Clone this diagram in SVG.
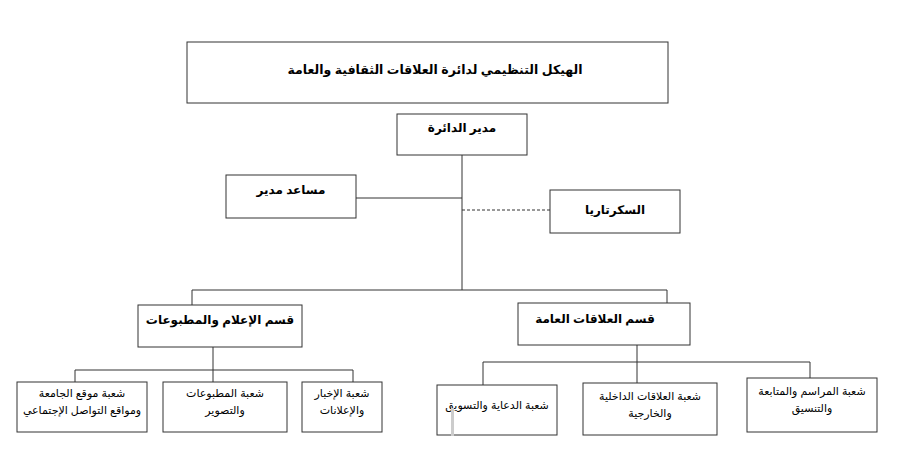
<svg xmlns="http://www.w3.org/2000/svg" width="900" height="463" viewBox="0 0 900 463">
<style>
.box{fill:#fff;stroke:#333;stroke-width:1}
.ln{fill:none;stroke:#333;stroke-width:1}
.dash{stroke-dasharray:3,2}
text{font-family:"Liberation Sans","DejaVu Sans",Arial,sans-serif;fill:#000;text-anchor:middle;direction:rtl}
.b{font-weight:bold;font-size:12px}
.t{font-weight:bold;font-size:12.5px}
.r{font-size:11px}
</style>
<rect width="900" height="463" fill="#fff"/>
<g id="connectors">
<path class="ln" d="M462 155V290M356 198H462M192 290H667M192 290V305M667 290V303"/>
<path class="ln dash" d="M462 210H550"/>
<path class="ln" d="M213 347V382M75 370H353M75 370V382M353 370V382"/>
<path class="ln" d="M637 345V383M483 362H810M483 362V385M810 362V378"/>
</g>
<g id="title"><rect class="box" x="187" y="42" width="481" height="61"/><text class="t" x="435" y="74">الهيكل التنظيمي لدائرة العلاقات الثقافية والعامة</text></g>
<g id="manager"><rect class="box" x="397" y="114" width="130" height="41"/><text class="b" x="462" y="132">مدير الدائرة</text></g>
<g id="assistant"><rect class="box" x="226" y="175" width="130" height="43"/><text class="b" x="291" y="194">مساعد مدير</text></g>
<g id="secretary"><rect class="box" x="550" y="190" width="130" height="43"/><text class="b" x="615" y="214">السكرتاريا</text></g>
<g id="dept-media"><rect class="box" x="138" y="305" width="164" height="42"/><text class="b" x="220" y="324">قسم الإعلام والمطبوعات</text></g>
<g id="dept-pr"><rect class="box" x="518" y="303" width="172" height="42"/><text class="b" x="595" y="323">قسم العلاقات العامة</text></g>
<g id="branch-web"><rect class="box" x="17" y="382" width="130" height="50"/><text class="r" x="82" y="397">شعبة موقع الجامعة</text><text class="r" x="82" y="414">ومواقع التواصل الإجتماعي</text></g>
<g id="branch-print"><rect class="box" x="163" y="382" width="124" height="50"/><text class="r" x="225" y="397">شعبة المطبوعات</text><text class="r" x="225" y="414">والتصوير</text></g>
<g id="branch-news"><rect class="box" x="302" y="382" width="80" height="50"/><text class="r" x="342" y="397">شعبة الإخبار</text><text class="r" x="342" y="414">والإعلانات</text></g>
<g id="branch-ads"><rect class="box" x="437" y="385" width="120" height="50"/><text class="r" x="497" y="409">شعبة الدعاية والتسويق</text><rect x="451" y="408" width="3" height="28" fill="#ccc"/></g>
<g id="branch-rel"><rect class="box" x="583" y="383" width="134" height="52"/><text class="r" x="650" y="400">شعبة العلاقات الداخلية</text><text class="r" x="650" y="417">والخارجية</text></g>
<g id="branch-prot"><rect class="box" x="747" y="378" width="130" height="54"/><text class="r" x="812" y="395">شعبة المراسم والمتابعة</text><text class="r" x="812" y="412">والتنسيق</text></g>
</svg>
